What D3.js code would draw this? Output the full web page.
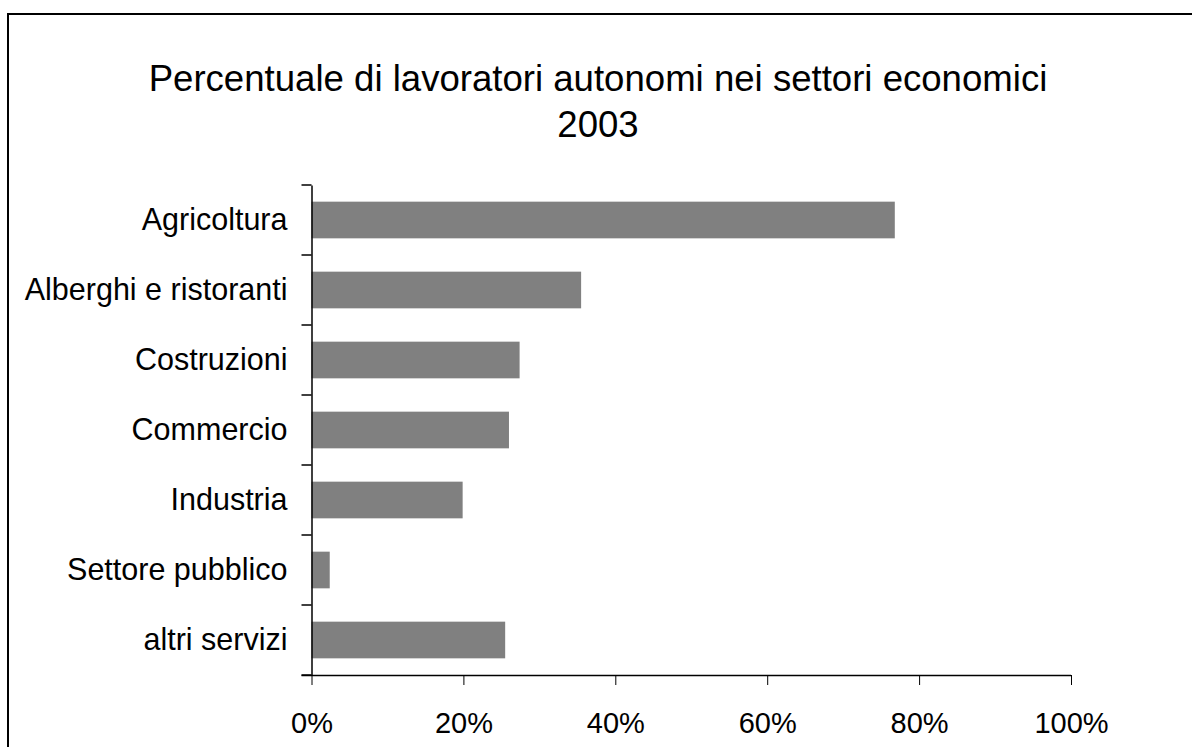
<!DOCTYPE html>
<html>
<head>
<meta charset="utf-8">
<script src="https://cdn.jsdelivr.net/npm/d3@7"></script>
<style>
  body { margin: 0; background: #fff; }
  svg { display: block; font-family: 'Liberation Sans', Arial, sans-serif; }
</style>
</head>
<body>
<svg id="graph"></svg>
<script>
const categories = ['Agricoltura', 'Alberghi e ristoranti', 'Costruzioni', 'Commercio', 'Industria', 'Settore pubblico', 'altri servizi']
const values = [0.768, 0.355, 0.274, 0.26, 0.199, 0.024, 0.255]
const xTicks = [0, 0.2, 0.4, 0.6, 0.8, 1]
const titleLines = ['Percentuale di lavoratori autonomi nei settori economici', '2003']

document.addEventListener('DOMContentLoaded', function () {
  const width = 1192
  const height = 747
  const margin = { top: 185, left: 311.5, right: 121, bottom: 72 }

  const svg = d3.select('#graph')
    .attr('width', width)
    .attr('height', height)

  // outer frame, cut off by the window on the right and bottom
  svg.append('rect')
    .attr('x', 8)
    .attr('y', 14)
    .attr('width', 1300)
    .attr('height', 900)
    .attr('fill', 'none')
    .attr('stroke', '#000')
    .attr('stroke-width', 2)

  svg.append('text')
    .attr('text-anchor', 'middle')
    .attr('font-size', 36.6)
    .selectAll('tspan')
    .data(titleLines)
    .enter()
    .append('tspan')
    .attr('x', 598)
    .attr('y', (d, i) => 91 + i * 46)
    .text(d => d)

  const x = d3.scaleLinear()
    .domain([0, 1])
    .range([margin.left, width - margin.right])

  const y = d3.scaleBand()
    .domain(categories)
    .range([margin.top, height - margin.bottom])
    .paddingInner(0.476)
    .paddingOuter(0.238)

  svg.append('g')
    .selectAll('rect')
    .data(categories)
    .enter()
    .append('rect')
    .attr('x', x(0))
    .attr('y', d => y(d))
    .attr('width', (d, i) => x(values[i]) - x(0))
    .attr('height', y.bandwidth())
    .attr('fill', '#808080')

  const xAxis = svg.append('g')
    .attr('transform', `translate(0,${height - margin.bottom})`)
    .call(d3.axisBottom(x).tickValues(xTicks).tickFormat(d3.format('.0%')).tickSizeOuter(0).tickSize(10).tickPadding(27))
  xAxis.select('.domain').attr('stroke-width', 1.5).attr('d', `M${x(0) - 10},0.5H${x(1)}`)
  xAxis.selectAll('text').attr('font-size', 29).attr('fill', '#000').attr('font-family', 'Liberation Sans, Arial, sans-serif')

  const yAxis = svg.append('g')
    .attr('transform', `translate(${margin.left},0)`)
    .call(d3.axisLeft(y).tickSize(0).tickPadding(24).tickSizeOuter(0))
  yAxis.select('.domain').attr('stroke-width', 1.5)
  yAxis.selectAll('text').attr('font-size', 30.5).attr('fill', '#000').attr('font-family', 'Liberation Sans, Arial, sans-serif')

  // category boundary ticks, as in the original
  const bounds = d3.range(categories.length + 1).map(i => margin.top + i * y.step())
  yAxis.append('g')
    .selectAll('line')
    .data(bounds)
    .enter()
    .append('line')
    .attr('x1', -10)
    .attr('x2', 0)
    .attr('y1', d => d)
    .attr('y2', d => d)
    .attr('stroke', '#000')
    .attr('stroke-width', 1.5)
}, false)
</script>
</body>
</html>
